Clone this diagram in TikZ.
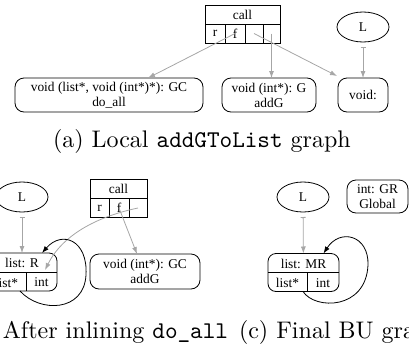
\documentclass[tikz,border=0pt]{standalone}
\usepackage{fontspec}
\newfontfamily\tnr{Liberation Serif}
\usetikzlibrary{arrows.meta,shapes.geometric}
\begin{document}
\begin{tikzpicture}[x=1pt,y=-1pt,
  every node/.style={inner sep=0pt, outer sep=0pt},
  lbl/.style={font=\tnr\fontsize{13.4}{15}\selectfont, align=center},
  box/.style={lbl, draw, rounded corners=9pt, line width=0.8pt},
  cellbox/.style={lbl, draw, line width=0.8pt, minimum height=19pt},
  ell/.style={lbl, draw, ellipse, line width=0.8pt, minimum width=52pt, minimum height=30pt},
  gedge/.style={draw=black!35, line width=0.8pt, -{Latex[length=7pt,width=5pt]}},
  ledge/.style={gedge, {Bar[width=5pt]}-{Latex[length=7pt,width=5pt]}, shorten <=5pt},
  selfloop/.style={draw=black, line width=0.8pt, -{Latex[length=7pt,width=5pt]}},
  captxt/.style={anchor=base west}
]
\useasboundingbox (0,0) rectangle (409,351);
\clip (0,0) rectangle (409,351);

% ---------------- (a) ----------------
\node[cellbox, minimum width=75pt] (callA) at (242.5,14.5) {call};
\node[cellbox, minimum width=20pt] (rA) at (215,33.5) {r};
\node[cellbox, minimum width=20pt] (fA) at (235,33.5) {f};
\node[cellbox, minimum width=18pt] (c3A) at (254,33.5) {};
\node[cellbox, minimum width=17pt] (c4A) at (271.5,33.5) {};
\node[ell] (LA) at (363,27) {L};
\node[box, minimum width=188pt, minimum height=34pt] (doall) at (109,95) {void (list*, void (int*)*): GC\\do\_all};
\node[box, minimum width=94pt, minimum height=34pt] (addgA) at (269,95) {void (int*): G\\addG};
\node[box, minimum width=50pt, minimum height=34pt] (voidA) at (363,95) {void:};

\draw[gedge] (fA.center) -- ([xshift=39pt]doall.north);
\draw[gedge] (c4A.center) -- (c4A.center |- addgA.north);
\draw[gedge] (c3A.center) -- ([xshift=-1pt,yshift=2pt]voidA.north west);
\draw[ledge] (LA) -- (voidA);

\node[captxt] (capA) at (53,147) {\scalebox{2.4}{(a) Local \texttt{addGToList} graph}};

% ---------------- (b) ----------------
\node[ell] (LB) at (22,197) {L};
\node[cellbox, minimum width=57pt] (callB) at (118.5,188.5) {call};
\node[cellbox, minimum width=19pt] (rB) at (99.5,208) {r};
\node[cellbox, minimum width=20pt] (fB) at (119,208) {f};
\node[cellbox, minimum width=18pt] (c3B) at (138,208) {};
\node[box, minimum width=110pt, minimum height=35pt] (addgB) at (145,271.5) {void (int*): GC\\addG};
\node[box, rounded corners=8pt, minimum width=70pt, minimum height=38pt] (RB) at (22,272) {};
\node[lbl] (RBt) at (22,263) {list: R};
\node[lbl] (RBl) at (6.5,282.5) {list*};
\node[lbl] (RBi) at (41.5,282.5) {int};
\draw[line width=0.8pt] (RB.west) -- (RB.east);
\draw[line width=0.8pt] (RB.center) ++(4pt,0) coordinate (RBd) -- (RBd |- RB.south);

\draw[ledge] (LB) -- (RB);
\draw[gedge] (fB.center) -- ([xshift=-8pt]addgB.north);
\draw[gedge] (c3B.center) .. controls (95,217) and (62,236) .. ([xshift=23pt,yshift=2pt]RB.center);
\draw[selfloop] ([xshift=-2pt]RB.south) .. controls (40,313) and (84,312) .. (86,275)
  .. controls (88,240) and (62,230) .. ([xshift=20pt]RB.north);

\node[captxt] (capB) at (3,338) {\scalebox{2.4}{\llap{(b) }After inlining \texttt{do\_all}}};

% ---------------- (c) ----------------
\node[ell] (LC) at (303,197) {L};
\node[box, minimum width=61pt, minimum height=33pt] (glob) at (377.5,196.5) {int: GR\\Global};
\node[box, rounded corners=8pt, minimum width=71pt, minimum height=38pt] (MR) at (303.5,272.5) {};
\node[lbl] (MRt) at (303.5,263.5) {list: MR};
\node[lbl] (MRl) at (287.5,283) {list*};
\node[lbl] (MRi) at (323,283) {int};
\draw[line width=0.8pt] (MR.west) -- (MR.east);
\draw[line width=0.8pt] (MR.center) ++(3.5pt,0) coordinate (MRd) -- (MRd |- MR.south);

\draw[ledge] (LC) -- (MR);
\draw[selfloop] ([xshift=-0.5pt]MR.south) .. controls (315,310) and (366,310) .. (368,265)
  .. controls (369,235) and (340,228) .. ([xshift=20pt]MR.north);

\node[captxt] (capC) at (239,338) {\scalebox{2.4}{(c) Final BU graph}};
\end{tikzpicture}
\end{document}
